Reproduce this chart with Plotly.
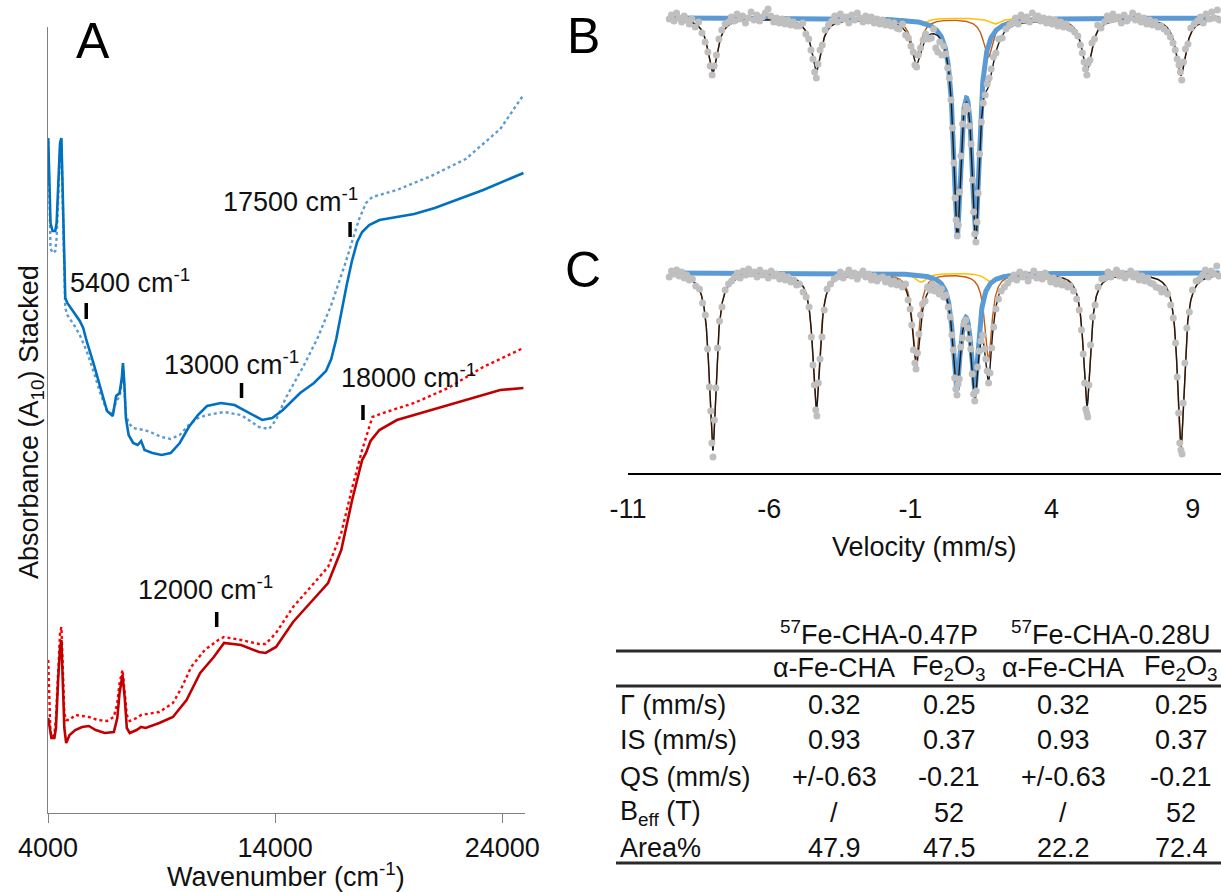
import numpy as np
import plotly.graph_objects as go

W, H = 1221, 892
FONT = "Liberation Sans, Arial, Helvetica, sans-serif"


def fx(p):
    return p / W


def fy(p):
    return 1 - p / H


# ---------------- Panel A: UV-vis-NIR spectra ----------------
blue_solid_wn = [4010, 4060, 4110, 4200, 4320, 4380, 4450, 4530, 4590, 4640, 4700, 4760, 4850, 5000, 5200,
                 5400, 5550, 5700, 6000, 6300, 6600, 6850, 7000, 7150, 7250, 7300, 7360, 7430, 7550, 7750,
                 7950, 8100, 8250, 8600, 9000, 9400, 9800, 10200, 10600, 11000, 11610, 12215, 12810, 13430,
                 13870, 14340, 15100, 15710, 16240, 16470, 16690, 16910, 17150, 17380, 17610, 17830, 18140,
                 18590, 19300, 20120, 21025, 21620, 23160, 24930]
blue_solid_abs = [6.75, 6.30, 5.90, 5.82, 5.82, 5.90, 6.30, 6.70, 6.75, 6.30, 5.50, 5.15, 5.10, 5.05, 4.98,
                  4.92, 4.85, 4.72, 4.50, 4.25, 4.02, 3.97, 4.17, 4.20, 4.35, 4.50, 4.30, 3.95, 3.78, 3.70,
                  3.68, 3.72, 3.63, 3.60, 3.58, 3.60, 3.70, 3.86, 3.98, 4.07, 4.10, 4.08, 4.01, 3.93,
                  3.95, 4.03, 4.20, 4.30, 4.42, 4.54, 4.74, 5.01, 5.28, 5.52, 5.71, 5.81, 5.88,
                  5.93, 5.96, 5.99, 6.05, 6.10, 6.23, 6.40]

blue_dot_wn = [4010, 4060, 4110, 4200, 4320, 4380, 4450, 4530, 4590, 4640, 4700, 4760, 4850, 5000, 5200,
               5400, 5700, 6000, 6300, 6600, 6850, 7000, 7150, 7250, 7300, 7360, 7430, 7550, 7750, 7950,
               8250, 8600, 9000, 9400, 9800, 10200, 10600, 11000, 11750, 12500, 13290, 13730, 14040, 14490,
               15250, 15850, 16470, 17080, 17680, 18000, 18280, 19360, 20870, 22390, 23910, 24930]
blue_dot_abs = [6.72, 6.10, 5.65, 5.60, 5.62, 5.75, 6.20, 6.62, 6.70, 6.20, 5.40, 5.05, 4.98, 4.93, 4.86,
                4.78, 4.62, 4.42, 4.20, 4.02, 3.99, 4.12, 4.16, 4.30, 4.45, 4.25, 3.99, 3.90, 3.85, 3.84,
                3.83, 3.80, 3.76, 3.74, 3.78, 3.88, 3.95, 3.98, 4.01, 3.98, 3.86, 3.84, 3.93, 4.16,
                4.47, 4.74, 5.08, 5.49, 5.93, 6.10, 6.16, 6.23, 6.37, 6.54, 6.84, 7.18]

red_solid_wn = [4010, 4080, 4150, 4280, 4350, 4450, 4530, 4590, 4650, 4720, 4800, 4950, 5200, 5500, 5800,
                6100, 6500, 6900, 7050, 7150, 7280, 7380, 7470, 7600, 7900, 8100, 8300, 8900, 9500, 10100,
                10700, 11300, 11750, 12500, 13290, 13580, 14040, 14790, 15540, 16330, 16910, 17390, 17830,
                18000, 18200, 18590, 19360, 20870, 22390, 23910, 24930]
red_solid_abs = [0.95, 0.85, 0.75, 0.75, 0.85, 1.35, 1.65, 1.73, 1.40, 0.85, 0.70, 0.78, 0.83, 0.86, 0.87,
                 0.83, 0.80, 0.81, 0.95, 1.20, 1.38, 1.15, 0.85, 0.80, 0.83, 0.86, 0.85, 0.90, 0.96, 1.13,
                 1.40, 1.56, 1.70, 1.68, 1.61, 1.60, 1.66, 1.91, 2.10, 2.30, 2.63, 3.13, 3.53,
                 3.60, 3.72, 3.83, 3.93, 4.03, 4.13, 4.23, 4.25]

red_dot_wn = [4010, 4060, 4100, 4150, 4280, 4350, 4450, 4530, 4590, 4650, 4720, 4800, 4950, 5200, 5500,
              5800, 6200, 6600, 6900, 7050, 7150, 7280, 7380, 7470, 7600, 7900, 8100, 8900, 9500, 9900,
              10300, 10900, 11500, 11750, 12500, 13290, 13580, 14040, 14790, 15540, 16330, 16910, 17390,
              17830, 18280, 18890, 20120, 21620, 23160, 24930]
red_dot_abs = [1.53, 1.20, 0.85, 0.76, 0.78, 0.95, 1.50, 1.80, 1.86, 1.50, 1.00, 0.93, 0.93, 0.98, 0.97,
               0.96, 0.93, 0.92, 0.96, 1.10, 1.30, 1.43, 1.20, 0.98, 0.92, 0.95, 0.98, 1.01, 1.10, 1.26,
               1.46, 1.63, 1.73, 1.76, 1.73, 1.69, 1.69, 1.80, 2.06, 2.26, 2.46, 2.80, 3.25,
               3.63, 3.96, 4.01, 4.10, 4.25, 4.46, 4.65]

# band markers (short bars) and their labels
band_labels = ["5400 cm<sup>-1</sup>", "13000 cm<sup>-1</sup>", "17500 cm<sup>-1</sup>",
               "18000 cm<sup>-1</sup>", "12000 cm<sup>-1</sup>"]
band_mark_wn = [5683, 12520, 17300, 17867, 11427]
band_mark_lo = [4.94, 4.15, 5.76, 3.93, 1.86]
band_mark_hi = [5.10, 4.30, 5.91, 4.08, 2.01]
band_label_wn = [7612, 12061, 14660, 19858, 10916]
band_label_y = [5.32, 4.50, 6.13, 4.37, 2.25]

a_ticks = [4000, 14000, 24000]

# ---------------- Panels B / C: Mossbauer spectra ----------------
# Fit components: line positions (mm/s), depths (% absorption), FWHM (mm/s)
sextet_pos = [-8.0, -4.33, -0.80, 1.76, 5.25, 8.58]

b_doublet_pos = [0.66, 1.31]
b_doublet_depth = [20.5, 20.5]
b_doublet_fwhm = 0.32
b_sextet_depth = [5.4, 5.2, 3.85, 3.85, 5.2, 5.7]
b_sextet_fwhm = 0.42
b_minor_pos = [-0.62, 2.0]
b_minor_depth = [0.6, 0.6]
b_minor_fwhm = 0.5

c_doublet_pos = [0.64, 1.28]
c_doublet_depth = [11.07, 11.07]
c_doublet_fwhm = 0.32
c_sextet_depth = [17.7, 13.6, 8.7, 8.7, 13.4, 17.4]
c_sextet_fwhm = 0.30
c_minor_pos = [-0.62, 1.85]
c_minor_depth = [0.9, 0.9]
c_minor_fwhm = 0.5

fit_range = [-9.55, 9.95]

# measured points (velocity mm/s, transmission %)
b_vel = [-9.54, -9.46, -9.37, -9.28, -9.19, -9.10, -9.01, -8.92, -8.83, -8.74,
         -8.62, -8.50, -8.38, -8.27, -8.17, -8.09, -8.02, -7.95, -7.87, -7.78, -7.68, -7.56,
         -7.44, -7.34, -7.24, -7.14, -7.04, -6.94, -6.84, -6.74, -6.64, -6.54, -6.44, -6.34, -6.24,
         -6.14, -6.04, -5.94, -5.84, -5.74, -5.64, -5.54, -5.44, -5.34, -5.24, -5.14, -5.04,
         -4.93, -4.81, -4.70, -4.60, -4.52, -4.45, -4.39, -4.33, -4.27, -4.20, -4.12, -4.02, -3.90,
         -3.78, -3.68, -3.58, -3.48, -3.38, -3.28, -3.18, -3.08, -2.98, -2.88, -2.78, -2.68, -2.58,
         -2.48, -2.38, -2.28, -2.18, -2.08, -1.98, -1.88, -1.78, -1.68, -1.58, -1.48,
         -1.40, -1.28, -1.17, -1.07, -0.98, -0.90, -0.84, -0.78, -0.72, -0.64, -0.55, -0.46, -0.36,
         -0.26, -0.18, -0.10, -0.03, 0.04, 0.11, 0.18, 0.25, 0.32, 0.38, 0.44, 0.49, 0.54, 0.58,
         0.62, 0.66, 0.70, 0.74, 0.79, 0.85, 0.91, 0.97, 1.03, 1.09, 1.15, 1.20, 1.24, 1.28, 1.32,
         1.36, 1.40, 1.45, 1.51, 1.58, 1.65, 1.72, 1.79, 1.86, 1.94, 2.03, 2.13, 2.25, 2.38, 2.52,
         2.62, 2.72, 2.82, 2.92, 3.02, 3.12, 3.22, 3.32, 3.42, 3.52, 3.62, 3.72, 3.82, 3.92, 4.02,
         4.12, 4.22, 4.32, 4.42, 4.52, 4.62,
         4.70, 4.82, 4.93, 5.02, 5.09, 5.15, 5.20, 5.25, 5.30, 5.36, 5.43, 5.52, 5.63, 5.75,
         5.87, 5.97, 6.07, 6.17, 6.27, 6.37, 6.47, 6.57, 6.67, 6.77, 6.87, 6.97, 7.07, 7.17, 7.27,
         7.37, 7.47, 7.57, 7.67, 7.77, 7.87,
         7.98, 8.10, 8.21, 8.30, 8.38, 8.45, 8.51, 8.56, 8.61, 8.67, 8.74, 8.83, 8.93, 9.05,
         9.17, 9.27, 9.37, 9.47, 9.57, 9.67, 9.77, 9.87, 9.94]
b_trans = [99.9, 100.3, 99.7, 100.5, 100.0, 99.6, 100.2, 99.8, 99.4, 99.9,
           99.1, 99.6, 98.5, 97.6, 96.6, 95.2, 94.3, 95.2, 96.3, 97.9, 98.8, 99.4,
           99.6, 100.1, 99.7, 100.4, 99.9, 100.2, 99.5, 100.0, 100.6, 99.8, 100.3, 99.7, 100.1,
           100.5, 100.9, 100.2, 99.6, 100.0, 99.5, 99.9, 99.4, 99.8, 99.3, 99.6, 99.2,
           99.2, 99.5, 98.4, 97.9, 96.8, 95.9, 94.6, 94.0, 95.4, 96.8, 97.3, 98.8, 99.3,
           99.7, 100.2, 99.6, 100.4, 99.9, 100.1, 99.5, 100.3, 99.8, 100.5, 100.0, 99.6, 100.2,
           99.7, 100.1, 99.5, 99.9, 99.4, 99.8, 99.3, 99.6, 99.2, 99.5, 99.0,
           98.9, 99.4, 98.3, 98.0, 97.2, 96.6, 95.3, 95.1, 96.3, 97.0, 97.8, 98.4, 97.9,
           98.0, 98.9, 97.0, 96.6, 97.6, 96.3, 97.2, 96.4, 95.0, 94.0, 91.8, 89.0, 85.5, 82.0,
           79.8, 78.2, 79.3, 82.6, 86.2, 89.4, 90.6, 91.2, 90.9, 89.2, 87.4, 83.8, 80.6, 78.4, 77.6,
           79.6, 82.5, 86.4, 89.6, 91.5, 92.3, 93.4, 94.0, 94.9, 96.1, 96.5, 97.9, 98.0, 98.9, 99.3,
           99.5, 100.0, 99.4, 100.3, 99.8, 100.1, 99.6, 100.5, 99.9, 100.2, 99.7, 100.0, 99.5, 99.9, 99.4,
           99.8, 99.2, 99.6, 99.1, 99.4, 99.0,
           98.9, 98.6, 98.2, 97.3, 96.5, 95.6, 94.9, 94.3, 95.5, 95.8, 97.5, 97.9, 99.3, 99.0,
           99.6, 100.2, 99.8, 100.4, 99.9, 100.1, 99.5, 100.3, 99.7, 100.0, 100.5, 99.8, 100.2, 99.6, 100.0,
           99.4, 99.8, 99.3, 99.6, 99.1, 99.2,
           98.9, 98.6, 98.1, 97.5, 96.8, 95.9, 95.3, 94.6, 93.8, 95.6, 96.9, 97.4, 99.0, 99.4,
           99.7, 100.1, 99.5, 100.4, 99.9, 100.6, 100.0, 100.8, 99.8]

c_vel = [-9.54, -9.46, -9.37, -9.28, -9.19, -9.10, -9.01, -8.92, -8.83, -8.72,
         -8.60, -8.47, -8.36, -8.26, -8.18, -8.12, -8.07, -8.03, -7.99, -7.94, -7.89, -7.83, -7.76,
         -7.67, -7.56, -7.44,
         -7.33, -7.23, -7.13, -7.03, -6.93, -6.83, -6.73, -6.63, -6.53, -6.43, -6.33, -6.23, -6.13,
         -6.03, -5.93, -5.83, -5.73, -5.63, -5.53, -5.43, -5.33, -5.23, -5.13, -5.03,
         -4.93, -4.80, -4.69, -4.59, -4.51, -4.45, -4.40, -4.35, -4.31, -4.26, -4.20, -4.13, -4.05,
         -3.95, -3.83, -3.70,
         -3.58, -3.48, -3.38, -3.28, -3.18, -3.08, -2.98, -2.88, -2.78, -2.68, -2.58, -2.48, -2.38,
         -2.28, -2.18, -2.08, -1.98, -1.88, -1.78, -1.68, -1.58, -1.48,
         -1.40, -1.28, -1.17, -1.08, -1.01, -0.95, -0.89, -0.84, -0.80, -0.75, -0.70, -0.64, -0.57,
         -0.48, -0.39,
         -0.30, -0.22, -0.14, -0.06, 0.02, 0.10, 0.18, 0.26, 0.34, 0.41, 0.47, 0.52, 0.57, 0.61,
         0.65, 0.69, 0.73, 0.78, 0.84, 0.90, 0.96, 1.02, 1.08, 1.14, 1.19, 1.24, 1.28, 1.33, 1.38,
         1.44, 1.50, 1.56, 1.62, 1.67, 1.72, 1.77, 1.82, 1.88, 1.95, 2.03, 2.12, 2.22, 2.33, 2.45,
         2.57, 2.67, 2.77, 2.87, 2.97, 3.07, 3.17, 3.27, 3.37, 3.47, 3.57, 3.67, 3.77, 3.87, 3.97,
         4.07, 4.17, 4.27, 4.37, 4.47, 4.57,
         4.65, 4.78, 4.89, 4.98, 5.06, 5.12, 5.17, 5.21, 5.25, 5.28, 5.32, 5.38, 5.45, 5.54, 5.65, 5.78,
         5.90, 6.00, 6.10, 6.20, 6.30, 6.40, 6.50, 6.60, 6.70, 6.80, 6.90, 7.00, 7.10, 7.20, 7.30,
         7.40, 7.50, 7.60, 7.70, 7.80, 7.90,
         7.98, 8.11, 8.22, 8.31, 8.39, 8.45, 8.50, 8.54, 8.58, 8.62, 8.66, 8.72, 8.79, 8.88, 8.99, 9.12,
         9.25, 9.35, 9.45, 9.55, 9.65, 9.75, 9.85, 9.92]
c_trans = [99.6, 100.2, 99.9, 100.3, 99.7, 100.1, 99.5, 99.8, 99.3, 99.4,
           98.7, 98.4, 97.0, 95.8, 92.4, 88.6, 86.2, 83.0, 81.6, 85.3, 88.5, 92.5, 95.2,
           96.6, 98.3, 98.9,
           99.2, 99.6, 100.0, 99.5, 100.2, 99.8, 100.4, 99.9, 100.1, 99.6, 100.3, 99.8, 100.0,
           99.5, 100.2, 99.7, 99.9, 99.4, 99.8, 99.3, 99.6, 99.1, 99.3, 98.8,
           98.9, 98.1, 97.6, 96.6, 93.6, 90.8, 88.8, 86.3, 85.7, 89.0, 91.4, 93.6, 96.3,
           98.4, 98.9, 99.4,
           99.6, 100.1, 99.5, 99.9, 100.3, 99.7, 100.0, 99.4, 99.8, 100.2, 99.6, 99.9, 99.3,
           99.7, 99.2, 99.5, 99.6, 99.1, 99.4, 98.9, 99.2, 98.8,
           99.0, 98.6, 98.9, 97.3, 96.4, 94.8, 92.3, 91.0, 90.4, 92.0, 93.9, 95.8, 96.9,
           97.2, 98.6,
           98.3, 98.9, 98.2, 98.6, 97.9, 98.4, 97.6, 97.8, 96.6, 95.6, 93.8, 92.3, 89.5, 88.4,
           87.8, 88.9, 89.4, 92.6, 93.5, 94.9, 95.3, 94.5, 93.4, 92.4, 89.9, 87.9, 87.2, 88.2, 90.6,
           92.2, 93.2, 93.8, 92.4, 91.4, 90.2, 89.0, 90.0, 92.5, 94.6, 96.4, 97.4, 98.2, 98.6, 99.0,
           99.4, 99.8, 99.3, 100.1, 99.6, 99.9, 99.2, 99.7, 100.2, 99.5, 99.8, 99.4, 100.0, 99.6, 99.1,
           99.5, 98.9, 99.3, 98.8, 99.0, 98.6,
           98.7, 98.2, 97.4, 96.3, 94.3, 91.9, 89.0, 86.4, 86.0, 85.6, 88.8, 92.8, 95.6, 96.8, 98.6, 99.4,
           99.5, 100.1, 99.6, 99.9, 100.3, 99.7, 100.0, 99.5, 99.8, 100.2, 99.6, 99.9, 99.3, 99.7, 99.2,
           99.5, 99.0, 98.9, 98.6, 98.5, 98.1,
           98.4, 97.9, 96.8, 95.5, 93.0, 89.6, 86.0, 83.0, 82.3, 81.9, 87.0, 91.0, 94.5, 96.1, 98.3, 99.2,
           99.4, 99.8, 100.3, 99.6, 100.2, 99.9, 100.7, 99.7]

v_ticks = [-11, -6, -1, 4, 9]

# ---------------- Table ----------------
table_groups = ["<sup>57</sup>Fe-CHA-0.47P", "<sup>57</sup>Fe-CHA-0.28U"]
table_phases = ["α-Fe-CHA", "Fe<sub>2</sub>O<sub>3</sub>", "α-Fe-CHA", "Fe<sub>2</sub>O<sub>3</sub>"]
table_params = ["Γ (mm/s)", "IS (mm/s)", "QS (mm/s)", "B<sub>eff</sub> (T)", "Area%"]
table_values = [["0.32", "0.25", "0.32", "0.25"],
                ["0.93", "0.37", "0.93", "0.37"],
                ["+/-0.63", "-0.21", "+/-0.63", "-0.21"],
                ["/", "52", "/", "52"],
                ["47.9", "47.5", "22.2", "72.4"]]


def dips(v, pos, depth, fwhm):
    hw = fwhm / 2.0
    out = np.zeros_like(v)
    for p, d in zip(pos, depth):
        out += d / (1.0 + ((v - p) / hw) ** 2)
    return out


fig = go.Figure()

# Panel A traces
fig.add_trace(go.Scatter(x=blue_dot_wn, y=blue_dot_abs, mode="lines",
                         line=dict(color="#5B9BD5", width=2.4, dash="dot"), xaxis="x", yaxis="y"))
fig.add_trace(go.Scatter(x=blue_solid_wn, y=blue_solid_abs, mode="lines",
                         line=dict(color="#0070C0", width=2.6), xaxis="x", yaxis="y"))
fig.add_trace(go.Scatter(x=red_dot_wn, y=red_dot_abs, mode="lines",
                         line=dict(color="#FF0000", width=2.4, dash="dot"), xaxis="x", yaxis="y"))
fig.add_trace(go.Scatter(x=red_solid_wn, y=red_solid_abs, mode="lines",
                         line=dict(color="#C00000", width=2.6), xaxis="x", yaxis="y"))

# Panels B and C traces
v = np.linspace(fit_range[0], fit_range[1], 2400)
panels = [
    ("x2", "y2", b_doublet_pos, b_doublet_depth, b_doublet_fwhm, b_sextet_depth, b_sextet_fwhm,
     b_minor_pos, b_minor_depth, b_minor_fwhm, b_vel, b_trans),
    ("x3", "y3", c_doublet_pos, c_doublet_depth, c_doublet_fwhm, c_sextet_depth, c_sextet_fwhm,
     c_minor_pos, c_minor_depth, c_minor_fwhm, c_vel, c_trans),
]
for (xa, ya, dpos, ddep, dfw, sdep, sfw, mpos, mdep, mfw, vel, tr) in panels:
    d_dbl = dips(v, dpos, ddep, dfw)
    d_sex = dips(v, sextet_pos, sdep, sfw)
    d_min = dips(v, mpos, mdep, mfw)
    fig.add_trace(go.Scatter(x=v, y=100 - d_min, mode="lines",
                             line=dict(color="#FFC000", width=1.5), xaxis=xa, yaxis=ya))
    fig.add_trace(go.Scatter(x=v, y=100 - d_sex, mode="lines",
                             line=dict(color="#C55A11", width=1.4), xaxis=xa, yaxis=ya))
    fig.add_trace(go.Scatter(x=v, y=100 - d_dbl, mode="lines",
                             line=dict(color="#5B9BD5", width=5), xaxis=xa, yaxis=ya))
    fig.add_trace(go.Scatter(x=v, y=100 - d_dbl - d_sex - d_min, mode="lines",
                             line=dict(color="#1E1A17", width=1.4), xaxis=xa, yaxis=ya))
    fig.add_trace(go.Scatter(x=vel, y=tr, mode="markers",
                             marker=dict(color="#BFBFBF", size=7, line=dict(width=0)),
                             xaxis=xa, yaxis=ya))

shapes = []
for wn, lo, hi in zip(band_mark_wn, band_mark_lo, band_mark_hi):
    shapes.append(dict(type="line", xref="x", yref="y", x0=wn, x1=wn, y0=lo, y1=hi,
                       line=dict(color="black", width=3.5)))

annotations = []
tfont = dict(family=FONT, size=27, color="#111111")
for txt, wn, yy in zip(band_labels, band_label_wn, band_label_y):
    annotations.append(dict(text=txt, x=wn, y=yy, xref="x", yref="y", showarrow=False,
                            xanchor="center", yanchor="middle", font=tfont))

# panel letters
for letter, xx, yy in [("A", 93, 41), ("B", 583, 36), ("C", 583, 270)]:
    annotations.append(dict(text=letter, x=fx(xx), y=fy(yy), xref="paper", yref="paper",
                            showarrow=False, xanchor="center", yanchor="middle",
                            font=dict(family=FONT, size=50, color="black")))

# axis titles
annotations.append(dict(text="Wavenumber (cm<sup>-1</sup>)", x=fx(286), y=fy(875), xref="paper",
                        yref="paper", showarrow=False, xanchor="center", yanchor="middle", font=tfont))
annotations.append(dict(text="Absorbance (A<sub>10</sub>) Stacked", x=fx(31), y=fy(422), xref="paper",
                        yref="paper", showarrow=False, xanchor="center", yanchor="middle",
                        textangle=-90, font=tfont))
annotations.append(dict(text="Velocity (mm/s)", x=fx(924), y=fy(547), xref="paper",
                        yref="paper", showarrow=False, xanchor="center", yanchor="middle", font=tfont))

# table
grp_x = [879, 1111]
phase_x = [834, 949, 1063, 1181]
row_y = [705, 740, 777, 813, 848]
for g, xx in zip(table_groups, grp_x):
    annotations.append(dict(text=g, x=fx(xx), y=fy(633), xref="paper", yref="paper", showarrow=False,
                            xanchor="center", yanchor="middle", font=tfont))
for ph, xx in zip(table_phases, phase_x):
    annotations.append(dict(text=ph, x=fx(xx), y=fy(668), xref="paper", yref="paper", showarrow=False,
                            xanchor="center", yanchor="middle", font=tfont))
for lab, vals, yy in zip(table_params, table_values, row_y):
    annotations.append(dict(text=lab, x=fx(618), y=fy(yy), xref="paper", yref="paper", showarrow=False,
                            xanchor="left", yanchor="middle", font=tfont))
    for val, xx in zip(vals, phase_x):
        annotations.append(dict(text=val, x=fx(xx), y=fy(yy), xref="paper", yref="paper",
                                showarrow=False, xanchor="center", yanchor="middle", font=tfont))
for yy in [651, 686, 863]:
    shapes.append(dict(type="line", xref="paper", yref="paper", x0=fx(616), x1=1.0, y0=fy(yy), y1=fy(yy),
                       line=dict(color="#2a2a2a", width=3)))

fig.update_layout(
    width=W, height=H, autosize=False,
    margin=dict(l=0, r=0, t=0, b=0, pad=0, autoexpand=False),
    paper_bgcolor="white", plot_bgcolor="white", showlegend=False,
    font=dict(family=FONT, size=27, color="#111111"),
    xaxis=dict(domain=[fx(48), fx(525)], range=[4000, 25000], anchor="y", automargin=False,
               showline=True, linecolor="#808080", linewidth=1.3, ticks="outside", ticklen=9,
               tickwidth=1.3, tickcolor="#808080", tickvals=a_ticks, ticktext=[str(t) for t in a_ticks],
               tickfont=tfont, showgrid=False, zeroline=False, ticklabelstandoff=1),
    yaxis=dict(domain=[fy(813), fy(27)], range=[0, 7.86], anchor="x", automargin=False,
               showline=True, linecolor="#808080", linewidth=1.3, ticks="", showticklabels=False,
               showgrid=False, zeroline=False),
    xaxis2=dict(domain=[fx(628), 1.0], range=[-11, 10], anchor="y2", visible=False, automargin=False),
    yaxis2=dict(domain=[fy(250), 1.0], range=[76.8, 101.8], anchor="x2", visible=False, automargin=False),
    xaxis3=dict(domain=[fx(628), 1.0], range=[-11, 10], anchor="y3", automargin=False,
                showline=True, linecolor="black", linewidth=2, ticks="", tickvals=v_ticks,
                ticktext=[str(t) for t in v_ticks], tickfont=tfont, showgrid=False, zeroline=False,
                ticklabelstandoff=11),
    yaxis3=dict(domain=[fy(473), fy(255)], range=[80.0, 101.8], anchor="x3", visible=False,
                automargin=False),
    shapes=shapes, annotations=annotations,
)

fig.write_html("out.html", config={"displayModeBar": False},
               post_script="document.body.style.margin='0px';document.body.style.overflow='hidden';")
